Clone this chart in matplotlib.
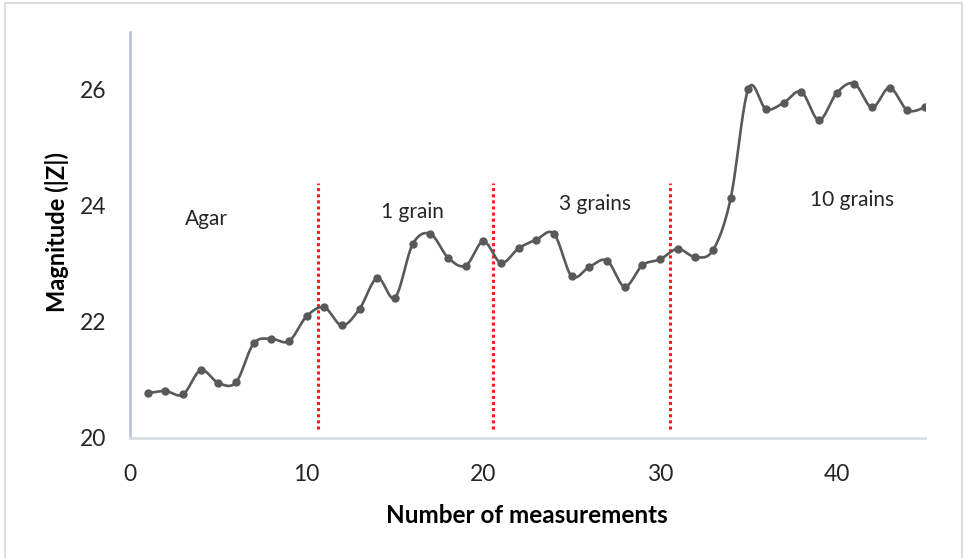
import numpy as np
import matplotlib

matplotlib.use("Agg")
import matplotlib.pyplot as plt
from matplotlib.patches import Rectangle

# measurement index and |Z| magnitude
measurements = list(range(1, 46))
magnitude = [
    20.77, 20.81, 20.75, 21.17, 20.95, 20.96, 21.63, 21.71, 21.67, 22.10,
    22.25, 21.94, 22.23, 22.76, 22.42, 23.34, 23.52, 23.11, 22.97, 23.39,
    23.02, 23.27, 23.42, 23.52, 22.79, 22.95, 23.06, 22.61, 22.98, 23.08,
    23.26, 23.12, 23.24, 24.13, 26.02, 25.67, 25.78, 25.97, 25.48, 25.95,
    26.11, 25.70, 26.04, 25.65, 25.70,
]

# stage boundaries and stage names
boundaries = [10.65, 20.55, 30.55]
stage_names = ["Agar", "1 grain", "3 grains", "10 grains"]
stage_x = [4.35, 16.0, 26.3, 40.85]
stage_y = [23.77, 23.89, 24.03, 24.10]

xticks = [0, 10, 20, 30, 40]
yticks = [20, 22, 24, 26]


def smooth(x, y, steps=20):
    # Catmull-Rom style cubic Bezier through every point
    x = np.asarray(x, float)
    y = np.asarray(y, float)
    px = np.concatenate([[x[0]], x, [x[-1]]])
    py = np.concatenate([[y[0]], y, [y[-1]]])
    t = np.linspace(0, 1, steps, endpoint=False)[:, None]
    outx, outy = [], []
    for i in range(1, len(px) - 2):
        p0 = np.array([px[i], py[i]])
        p3 = np.array([px[i + 1], py[i + 1]])
        c1 = p0 + (np.array([px[i + 1], py[i + 1]]) - np.array([px[i - 1], py[i - 1]])) / 6
        c2 = p3 - (np.array([px[i + 2], py[i + 2]]) - np.array([px[i], py[i]])) / 6
        pts = ((1 - t) ** 3) * p0 + 3 * ((1 - t) ** 2) * t * c1 + 3 * (1 - t) * t ** 2 * c2 + t ** 3 * p3
        outx.append(pts[:, 0])
        outy.append(pts[:, 1])
    outx.append([x[-1]])
    outy.append([y[-1]])
    return np.concatenate(outx), np.concatenate(outy)


plt.rcParams["font.family"] = ["Lato", "DejaVu Sans"]

fig = plt.figure(figsize=(9.64, 5.58), dpi=100)
fig.patches.append(Rectangle((5 / 964, -0.01), 957 / 964, 1 - 3 / 558 + 0.01,
                             transform=fig.transFigure, fill=False,
                             edgecolor="#d9dde5", linewidth=1.5))
ax = fig.add_axes([130 / 964, 1 - 438 / 558, 795 / 964, 406 / 558])

sx, sy = smooth(measurements, magnitude)
ax.plot(sx, sy, color="#595959", linewidth=1.9, zorder=3)
ax.plot(measurements, magnitude, "o", color="#595959", markersize=5, zorder=4)

for b in boundaries:
    ax.vlines(b, 20.15, 24.4, colors="#ff1a1a", linestyles=(0, (1, 1)),
              linewidth=2.2, zorder=2)

for name, tx, ty in zip(stage_names, stage_x, stage_y):
    ax.text(tx, ty, name, ha="center", va="center", fontsize=15, color="#262626")

ax.set_xlim(0, 45)
ax.set_ylim(20, 27)
ax.set_xticks(xticks)
ax.set_yticks(yticks)
ax.tick_params(length=0, labelsize=16.5, labelcolor="#262626")
ax.tick_params(axis="x", pad=19)
ax.tick_params(axis="y", pad=17)

for side in ("top", "right"):
    ax.spines[side].set_visible(False)
ax.spines["left"].set_color("#b4bfd6")
ax.spines["left"].set_linewidth(1.8)
ax.spines["bottom"].set_color("#d5dbe6")
ax.spines["bottom"].set_linewidth(1.8)

ax.set_xlabel("Number of measurements", fontsize=17.5, fontweight="bold")
ax.set_ylabel("Magnitude (|Z|)", fontsize=17, fontweight="bold")
ax.xaxis.set_label_coords(0.499, -0.19)
ax.xaxis.label.set_va("center")
ax.yaxis.set_label_coords(-0.092, 0.507)
ax.yaxis.label.set_va("center")
ax.yaxis.label.set_ha("center")

fig.savefig("out.png", dpi=100)
